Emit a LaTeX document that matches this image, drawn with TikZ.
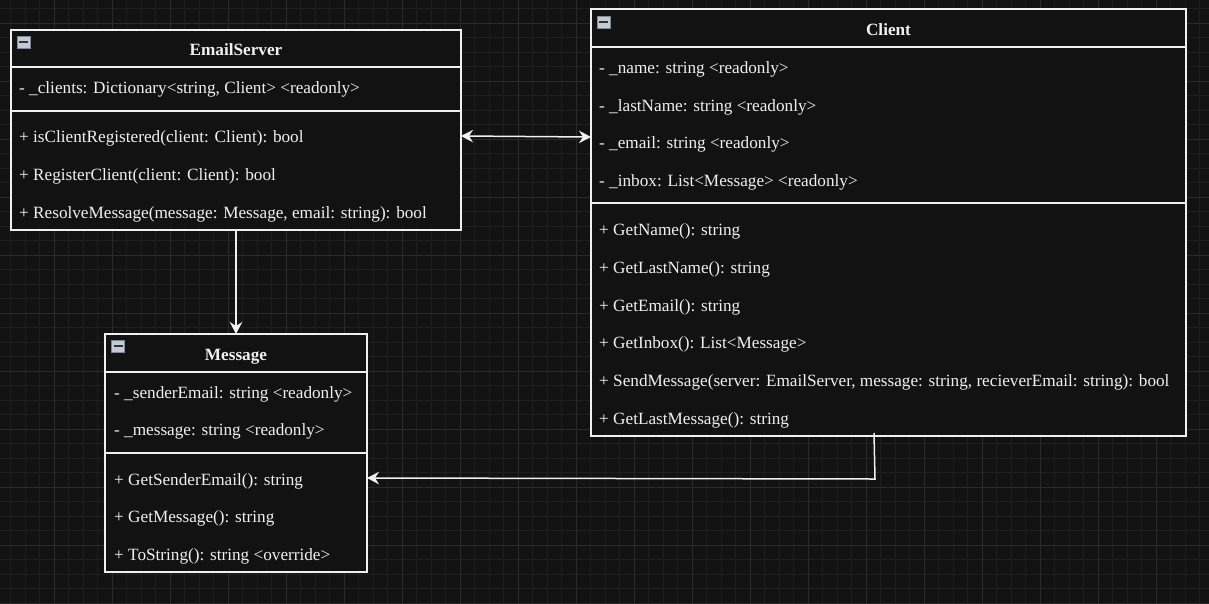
\documentclass[tikz,border=0pt]{standalone}
\usepackage{fontspec}
\setmainfont{Liberation Serif}
\usetikzlibrary{arrows.meta}
\definecolor{bg}{HTML}{121212}
\definecolor{gminor}{HTML}{1E1E1E}
\definecolor{gmajor}{HTML}{2A2A2A}
\definecolor{fg}{HTML}{F0F0F0}
\definecolor{iconfill}{HTML}{C4CAD2}
\definecolor{icondraw}{HTML}{7E8A98}
\tikzset{
  classbox/.style={draw=fg, fill=bg, line width=1.5pt, inner sep=0pt, outer sep=0pt},
  sep/.style={draw=fg, line width=1.5pt},
  row/.style={anchor=base west, inner sep=0pt, text=fg, font=\fontsize{17.2}{20}\selectfont},
  title/.style={anchor=base, inner sep=0pt, text=fg, font=\fontsize{17.2}{20}\selectfont\bfseries},
  conn/.style={draw=fg, line width=1.5pt, -{Stealth[length=12pt,width=12.5pt,inset=4pt]}},
  conn2/.style={draw=fg, line width=1.5pt, {Stealth[length=12pt,width=12.5pt,inset=4pt]}-{Stealth[length=12pt,width=12.5pt,inset=4pt]}},
  icon/.style={draw=icondraw, fill=iconfill, line width=0.8pt, minimum width=13pt, minimum height=12pt, inner sep=0pt}
}
\begin{document}
\begin{tikzpicture}[x=1pt,y=-1pt]
\fill[bg] (0,0) rectangle (1209,603);
\useasboundingbox (0,0) rectangle (1209,603);
% grid
\foreach \i in {0,...,83} {\draw[gminor, line width=0.8pt] ({10.8+14.5*\i},0) -- ({10.8+14.5*\i},603);}
\foreach \i in {0,...,41} {\draw[gminor, line width=0.8pt] (0,{8.8+14.5*\i}) -- (1209,{8.8+14.5*\i});}
\foreach \i in {0,...,21} {\draw[gmajor, line width=0.8pt] ({-3.7+58*\i},0) -- ({-3.7+58*\i},603);}
\foreach \i in {0,...,10} {\draw[gmajor, line width=0.8pt] (0,{23.3+58*\i}) -- (1209,{23.3+58*\i});}

% EmailServer
\node[classbox, minimum width=450pt, minimum height=200pt] (es) at (236,130) {};
\draw[sep] (11,67) -- (461,67);
\draw[sep] (11,111) -- (461,111);
\node[icon] (esicon) at (23.5,42) {};
\draw[black!80, line width=1.6pt] (19,42) -- (28,42);
\node[title] (estitle) at (236,55) {EmailServer};
\node[row] (es1) at (19,93) {- \_clients: Dictionary<string, Client> <readonly>};
\node[row] (es2) at (19,142) {+ isClientRegistered(client: Client): bool};
\node[row] (es3) at (19,180) {+ RegisterClient(client: Client): bool};
\node[row] (es4) at (19,218) {+ ResolveMessage(message: Message, email: string): bool};

% Client
\node[classbox, minimum width=595pt, minimum height=427pt] (cl) at (888.5,222.5) {};
\draw[sep] (591,47) -- (1186,47);
\draw[sep] (591,203) -- (1186,203);
\node[icon] (clicon) at (603.5,22) {};
\draw[black!80, line width=1.6pt] (599,22) -- (608,22);
\node[title] (cltitle) at (888.5,35) {Client};
\node[row] (c1) at (599,73) {- \_name: string <readonly>};
\node[row] (c2) at (599,111) {- \_lastName: string <readonly>};
\node[row] (c3) at (599,148) {- \_email: string <readonly>};
\node[row] (c4) at (599,186) {- \_inbox: List<Message> <readonly>};
\node[row] (c5) at (599,235) {+ GetName(): string};
\node[row] (c6) at (599,273) {+ GetLastName(): string};
\node[row] (c7) at (599,311) {+ GetEmail(): string};
\node[row] (c8) at (599,348) {+ GetInbox(): List<Message>};
\node[row] (c9) at (599,386) {+ SendMessage(server: EmailServer, message: string, recieverEmail: string): bool};
\node[row] (c10) at (599,424) {+ GetLastMessage(): string};

% Message
\node[classbox, minimum width=262pt, minimum height=238pt] (msg) at (236,453) {};
\draw[sep] (105,372) -- (367,372);
\draw[sep] (105,453) -- (367,453);
\node[icon] (msicon) at (118,346) {};
\draw[black!80, line width=1.6pt] (113.5,346) -- (122.5,346);
\node[title] (mstitle) at (236,360) {Message};
\node[row] (m1) at (114,398) {- \_senderEmail: string <readonly>};
\node[row] (m2) at (114,435) {- \_message: string <readonly>};
\node[row] (m3) at (114,485) {+ GetSenderEmail(): string};
\node[row] (m4) at (114,522) {+ GetMessage(): string};
\node[row] (m5) at (114,560) {+ ToString(): string <override>};

% connectors
\coordinate (esR) at (461,136);
\coordinate (clL) at (591,137);
\coordinate (clB) at (874,433);
\coordinate (bend) at (875,479);
\coordinate (msR) at (367,478);
\draw[conn] (es.south) -- (msg.north);
\draw[conn2] (esR) -- (clL);
\draw[conn] (clB) -- (bend) -- (msR);
\end{tikzpicture}
\end{document}
